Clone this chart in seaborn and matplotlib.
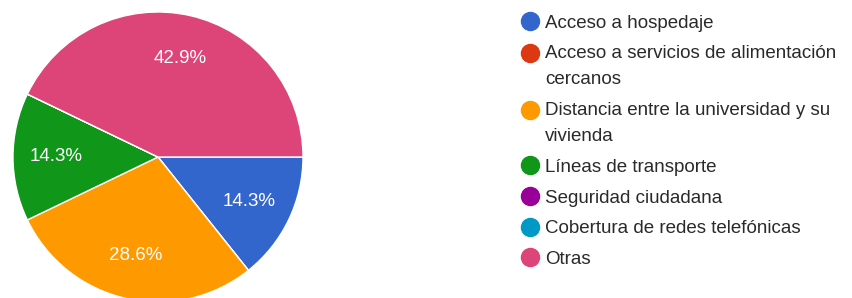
import matplotlib
matplotlib.use("Agg")
import numpy as np
import matplotlib.pyplot as plt
import seaborn as sns
from matplotlib.lines import Line2D

categories = [
    "Acceso a hospedaje",
    "Acceso a servicios de alimentación\ncercanos",
    "Distancia entre la universidad y su\nvivienda",
    "Líneas de transporte",
    "Seguridad ciudadana",
    "Cobertura de redes telefónicas",
    "Otras",
]
counts = [1, 0, 2, 1, 0, 0, 3]
colors = ["#3366cc", "#dc3912", "#ff9900", "#109618", "#990099", "#0099c6", "#dd4477"]

sns.set_theme(style="white")
plt.rcParams["font.family"] = ["Liberation Sans", "DejaVu Sans"]

fig = plt.figure(figsize=(8.53, 2.98), dpi=100)
W, H = 853, 298
cx, cy, r = 158, 157, 145
ax = fig.add_axes([(cx - r) / W, (H - cy - r) / H, 2 * r / W, 2 * r / H])

def pct(p):
    return f"{p:.1f}%" if p > 0 else ""

wedges, texts, autotexts = ax.pie(
    counts, colors=colors, startangle=0, counterclock=False,
    autopct=pct, pctdistance=0.7,
    wedgeprops=dict(edgecolor="white", linewidth=1),
    textprops=dict(color="white", fontsize=13.5),
)
ax.set_xlim(-1, 1)
ax.set_ylim(-1, 1)
ax.set_aspect("equal")
ax.axis("off")

handles = [Line2D([0], [0], marker="o", linestyle="", markersize=13,
                  markerfacecolor=c, markeredgecolor=c) for c in colors]
leg = fig.legend(handles, categories, loc="upper left",
                 bbox_to_anchor=(516 / W, 1 - 7 / H), frameon=False,
                 fontsize=13.5, handlelength=0.7, handletextpad=0.45,
                 labelspacing=0.72, borderaxespad=0)
for t in leg.get_texts():
    t.set_color("#2a2a2a")
    t.set_linespacing(1.72)

# put the dot next to the first line of wrapped labels
line_pt = 19.3
for h, lab in zip(leg.legend_handles, categories):
    extra = lab.count("\n")
    if extra:
        h.set_ydata(np.asarray(h.get_ydata(), dtype=float) + extra * line_pt / 2)

fig.savefig("out.png", dpi=100)
